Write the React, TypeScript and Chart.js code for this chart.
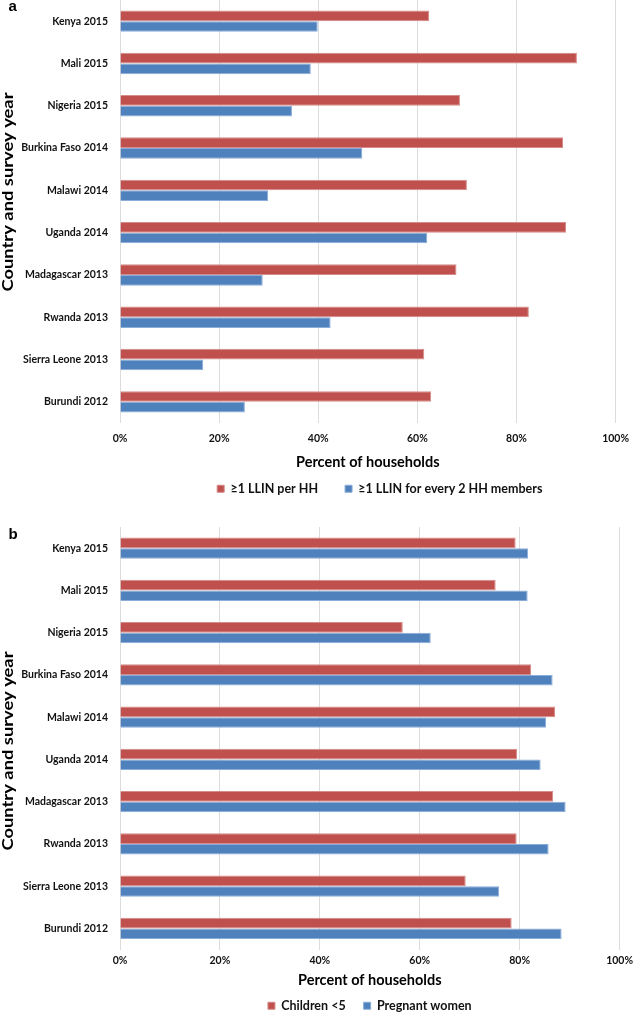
import { useEffect, useRef } from "react";
import { Chart, registerables } from "chart.js";

Chart.register(...registerables);

const FONT = "Lato, 'Open Sans', sans-serif";

const categories = [
  "Kenya 2015",
  "Mali 2015",
  "Nigeria 2015",
  "Burkina Faso 2014",
  "Malawi 2014",
  "Uganda 2014",
  "Madagascar 2013",
  "Rwanda 2013",
  "Sierra Leone 2013",
  "Burundi 2012",
];

// Panel a
const llinPerHH = [62.4, 92.2, 68.6, 89.4, 70.0, 90.0, 67.9, 82.5, 61.4, 62.8];
const llinPerTwoMembers = [39.9, 38.5, 34.7, 48.9, 29.9, 62.0, 28.8, 42.5, 16.8, 25.2];

// Panel b
const childrenUnder5 = [79.2, 75.2, 56.6, 82.3, 87.1, 79.5, 86.7, 79.4, 69.2, 78.4];
const pregnantWomen = [81.7, 81.6, 62.2, 86.6, 85.3, 84.2, 89.2, 85.8, 75.9, 88.4];

const xTickValues = [0, 20, 40, 60, 80, 100];
const seriesNamesA = ["≥1 LLIN per HH", "≥1 LLIN for every 2 HH members"];
const seriesNamesB = ["Children <5", "Pregnant women"];
const xTitle = "Percent of households";
const yTitle = "Country and survey year";

const RED = "#C0504D";
const BLUE = "#4F81BD";

type PanelProps = {
  letter: string;
  letterY: number;
  names: string[];
  first: number[];
  second: number[];
  height: number;
  padTop: number;
  axisHeight: number;
  tickPad: number;
  titlePadBottom: number;
  legendPad: number;
  legendShift: number;
  yTitleY: number;
};

const panelTextPlugin = {
  id: "panelText",
  afterLayout(chart: any, _args: any, opts: any) {
    const lg = chart.legend;
    if (lg && opts.legendShift) {
      lg.left += opts.legendShift;
      lg.right += opts.legendShift;
    }
  },
  afterDraw(chart: any, _args: any, opts: any) {
    const ctx = chart.ctx;
    ctx.save();
    ctx.fillStyle = "#000";
    ctx.font = `bold 16px ${FONT}`;
    const w = ctx.measureText(yTitle).width;
    ctx.translate(opts.yTitleX, opts.yTitleY);
    ctx.rotate(-Math.PI / 2);
    ctx.scale(opts.yTitleLength / w, 1);
    ctx.textAlign = "center";
    ctx.textBaseline = "middle";
    ctx.fillText(yTitle, 0, 0);
    ctx.restore();
    ctx.save();
    ctx.fillStyle = "#000";
    ctx.font = "bold 15px 'Liberation Sans', Arial, sans-serif";
    ctx.textAlign = "left";
    ctx.textBaseline = "alphabetic";
    ctx.fillText(opts.letter, 8.5, opts.letterY);
    ctx.restore();
  },
};

function Panel(p: PanelProps) {
  const ref = useRef<HTMLCanvasElement>(null);
  useEffect(() => {
    if (!ref.current) return;
    const chart = new Chart(ref.current, {
      type: "bar",
      data: {
        labels: categories,
        datasets: [
          {
            label: p.names[0],
            data: p.first,
            backgroundColor: RED,
            borderColor: "#D48B89",
            borderWidth: 1,
            categoryPercentage: 0.505,
            barPercentage: 1,
          },
          {
            label: p.names[1],
            data: p.second,
            backgroundColor: BLUE,
            borderColor: "#8AACD8",
            borderWidth: 1,
            categoryPercentage: 0.505,
            barPercentage: 1,
          },
        ],
      },
      options: {
        indexAxis: "y",
        responsive: false,
        animation: false,
        devicePixelRatio: 1,
        layout: { padding: { top: p.padTop, left: 0, right: 13.5, bottom: 0 } },
        scales: {
          x: {
            min: 0,
            max: 100,
            afterBuildTicks: (scale: any) => {
              scale.ticks = xTickValues.map((v) => ({ value: v }));
            },
            afterFit: (scale: any) => {
              scale.height = p.axisHeight;
            },
            grid: { color: "#DCDCDC", lineWidth: 1, drawTicks: false },
            border: { display: false },
            ticks: {
              padding: p.tickPad,
              color: "#111",
              font: { family: FONT, size: 10.5, weight: "bold" },
              callback: (v: any) => `${v}%`,
            },
            title: {
              display: true,
              text: xTitle,
              color: "#000",
              font: { family: FONT, size: 14.5, weight: "bold" },
              padding: { top: 0, bottom: p.titlePadBottom },
            },
          },
          y: {
            afterFit: (scale: any) => {
              scale.width = 120;
              scale.paddingTop = 0;
              scale.paddingBottom = 0;
            },
            grid: { display: false, drawTicks: false },
            border: { display: false },
            ticks: {
              padding: 12,
              color: "#111",
              font: { family: FONT, size: 10.5, weight: "bold" },
            },
          },
        },
        plugins: {
          legend: {
            position: "bottom",
            fullSize: false,
            labels: {
              boxWidth: 7,
              boxHeight: 7,
              padding: p.legendPad,
              color: "#111",
              font: { family: FONT, size: 12.5, weight: "bold" },
            },
          },
          tooltip: { enabled: false },
          panelText: {
            letter: p.letter,
            letterY: p.letterY,
            yTitleX: 8,
            yTitleY: p.yTitleY,
            yTitleLength: 199,
            legendShift: p.legendShift,
          },
        } as any,
      },
      plugins: [panelTextPlugin],
    });
    return () => chart.destroy();
  }, []);
  return <canvas ref={ref} width={638} height={p.height} style={{ display: "block" }} />;
}

export default function App() {
  return (
    <div
      style={{
        position: "fixed",
        left: 0,
        top: 0,
        width: 638,
        height: 1013,
        overflow: "hidden",
        background: "#fff",
      }}
    >
      <div style={{ position: "absolute", left: 0, top: 0 }}>
        <Panel
          letter="a"
          letterY={11}
          names={seriesNamesA}
          first={llinPerHH}
          second={llinPerTwoMembers}
          height={505}
          padTop={0}
          axisHeight={32.5}
          tickPad={9}
          titlePadBottom={-15.7}
          legendPad={27}
          legendShift={12}
          yTitleY={192}
        />
      </div>
      <div style={{ position: "absolute", left: 0, top: 505 }}>
        <Panel
          letter="b"
          letterY={34}
          names={seriesNamesB}
          first={childrenUnder5}
          second={pregnantWomen}
          height={517}
          padTop={22}
          axisHeight={32}
          tickPad={5}
          titlePadBottom={-7.7}
          legendPad={18}
          legendShift={0}
          yTitleY={246}
        />
      </div>
    </div>
  );
}
